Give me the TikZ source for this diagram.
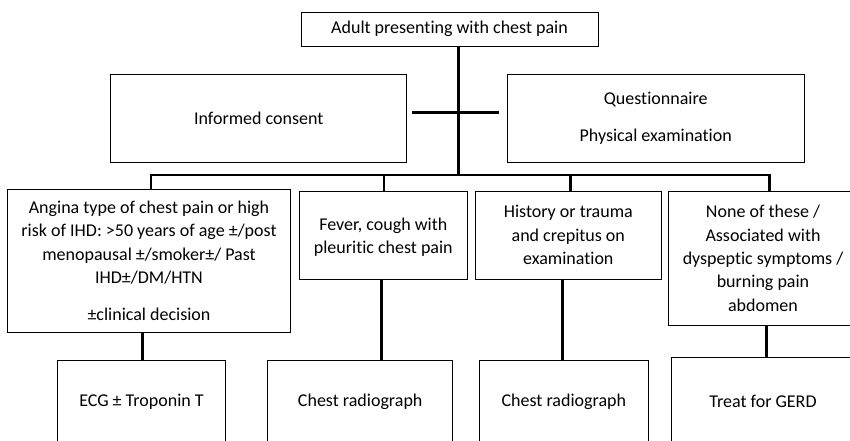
\documentclass[tikz,border=0pt]{standalone}
\usepackage{fontspec}
\setmainfont{Carlito}[Ligatures=NoCommon]
\begin{document}
\begin{tikzpicture}[
        x=1pt, y=-1pt,
        box/.style={draw, line width=0.9pt, align=center, inner sep=2pt, font=\fontsize{18}{23.3}\selectfont},
        link/.style={draw, line width=2.6pt},
        every edge/.style={link},
    ]
    \useasboundingbox (0,0) rectangle (850,440);
    \clip (0,0) rectangle (850,440);

    % top part
    \node[box, minimum width=297pt, minimum height=34pt] (start) at (449.5,29) {Adult presenting with chest pain};
    \node[box, minimum width=296pt, minimum height=88.7pt] (consent) at (258.7,118.3) {Informed consent};
    \node[box, minimum width=296.7pt, minimum height=88pt] (exam) at (655.7,118) {Questionnaire\\[13.4pt]Physical examination};

    % findings
    \node[box, minimum width=283.4pt, minimum height=143.3pt] (angina) at (149,260.7) {Angina type of chest pain or high\\risk of IHD: >50 years of age ±/post\\menopausal ±/smoker±/ Past\\IHD±/DM/HTN\\[13.7pt]±clinical decision};
    \node[box, minimum width=168.7pt, minimum height=88pt] (fever) at (383.3,235) {\mbox{}\\[-6.6pt]Fever, cough with\\pleuritic chest pain};
    \node[box, minimum width=186.7pt, minimum height=88pt] (history) at (568.3,235) {History or trauma\\and crepitus on\\examination};
    \node[box, minimum width=190pt, minimum height=134.7pt] (none) at (763,258.3) {None of these /\\Associated with\\dyspeptic symptoms /\\burning pain\\abdomen};

    % actions
    \node[box, minimum width=168.4pt, minimum height=82.6pt] (ecg) at (141.5,402) {ECG ± Troponin T};
    \node[box, minimum width=185pt, minimum height=82.6pt] (cxr1) at (360.2,402) {Chest radiograph};
    \node[box, minimum width=169pt, minimum height=84pt] (cxr2) at (563.8,402) {Chest radiograph};
    \node[box, minimum width=184pt, minimum height=87.4pt] (gerd) at (763,401) {Treat for GERD};

    \coordinate (trunk) at (458.3,175);
    \coordinate (cross left) at (412,112.3);
    \coordinate (cross right) at (499,112.3);
    \coordinate (split a) at (151,175);
    \coordinate (split b) at (384,175);
    \coordinate (split c) at (570.7,175);
    \coordinate (split d) at (769.3,175);
    \coordinate (lead a) at (142.7,0);
    \coordinate (lead b) at (381.7,0);
    \coordinate (lead c) at (562.3,0);
    \coordinate (lead d) at (766.7,0);

    \path (start.south -| trunk) edge (trunk);
    \path (cross left) edge (cross right);
    \draw[link] (split a |- angina.north) -- (split a) -- (split d) -- (split d |- none.north);
    \path (split b) edge (split b |- fever.north);
    \path (split c) edge (split c |- history.north);

    \path (lead a |- angina.south) edge (lead a |- ecg.north);
    \path (lead b |- fever.south) edge (lead b |- cxr1.north);
    \path (lead c |- history.south) edge (lead c |- cxr2.north);
    \path (lead d |- none.south) edge (lead d |- gerd.north);
\end{tikzpicture}
\end{document}
